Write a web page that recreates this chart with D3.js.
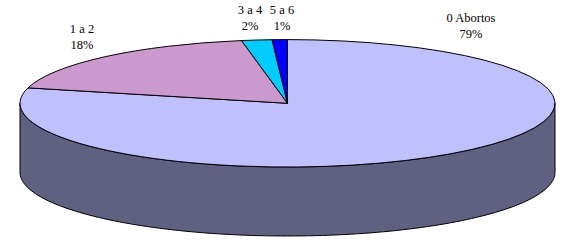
<!DOCTYPE html>
<html><head><meta charset="utf-8">
<script src="https://cdn.jsdelivr.net/npm/d3@7"></script>
<style>
html,body{margin:0;padding:0;background:#fff;}
svg{display:block;}
</style></head>
<body>
<script>
// Data
const categories = ["0 Abortos", "1 a 2", "3 a 4", "5 a 6"];
const values = [86, 20, 2, 1];

// Styles / layout (not data)
const topColors = ["#C0C0FF", "#CC99CC", "#00CCFF", "#0000FF"];
const sideColors = ["#606080", "#664C66", "#006680", "#000080"];
const labelAnchor = [[471, 22], [82, 33], [250, 14], [282, 14]];

const W = 563, H = 243;
const cx = 287.5, cy = 103.3, rx = 267.5, ry = 63.7, depth = 69;

const svg = d3.select("body").append("svg").attr("width", W).attr("height", H);

const total = d3.sum(values);
const pie = d3.pie().sort(null).value(d => d)(values);

const px = a => cx + rx * Math.sin(a);
const py = a => cy - ry * Math.cos(a);

// Side walls (front half only)
const sideG = svg.append("g");
pie.forEach((s, i) => {
  const a0 = Math.max(s.startAngle, Math.PI / 2);
  const a1 = Math.min(s.endAngle, 3 * Math.PI / 2);
  if (a1 <= a0) return;
  const n = 120;
  const angs = d3.range(n + 1).map(k => a0 + (a1 - a0) * k / n);
  const top = angs.map(a => [px(a), py(a)]);
  const bot = angs.slice().reverse().map(a => [px(a), py(a) + depth]);
  sideG.append("path")
    .attr("d", d3.line()(top.concat(bot)) + "Z")
    .attr("fill", sideColors[i])
    .attr("stroke", "#000")
    .attr("stroke-width", 1)
    .attr("stroke-linejoin", "round");
});

// Top face
const arc = d3.arc().innerRadius(0).outerRadius(rx);
const topG = svg.append("g")
  .attr("transform", `translate(${cx},${cy}) scale(1,${ry / rx})`);
topG.selectAll("path").data(pie).join("path")
  .attr("d", arc)
  .attr("fill", (d, i) => topColors[i])
  .attr("stroke", "#000")
  .attr("stroke-width", 1)
  .attr("vector-effect", "non-scaling-stroke")
  .attr("stroke-linejoin", "round");

// Labels
const fmt = v => Math.round(v / total * 100) + "%";
const lab = svg.append("g");
categories.forEach((c, i) => {
  const t = lab.append("text")
    .attr("x", labelAnchor[i][0]).attr("y", labelAnchor[i][1])
    .attr("text-anchor", "middle")
    .attr("font-family", "Liberation Serif")
    .attr("font-size", 12.5)
    .attr("fill", "#000");
  t.append("tspan").attr("x", labelAnchor[i][0]).text(c);
  t.append("tspan").attr("x", labelAnchor[i][0]).attr("dy", 15.5).text(fmt(values[i]));
});
</script>
</body></html>
